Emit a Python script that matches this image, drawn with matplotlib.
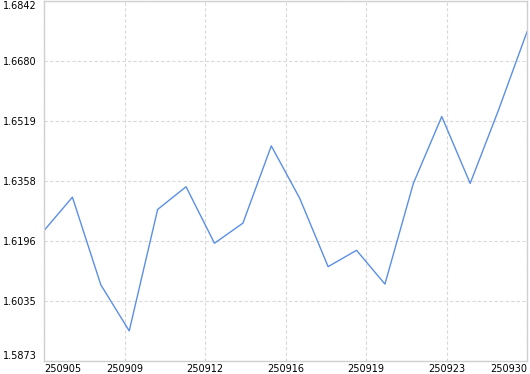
import numpy as np
import matplotlib
matplotlib.use("Agg")
import matplotlib.pyplot as plt

# daily values, 18 trading days
values = [1.6224, 1.6314, 1.6078, 1.5954, 1.6281, 1.6342, 1.6190, 1.6244,
          1.6452, 1.6311, 1.6127, 1.6171, 1.6080, 1.6351, 1.6531, 1.6351,
          1.6549, 1.6759]
tick_labels = ["250905", "250909", "250912", "250916", "250919", "250923", "250930"]
y_ticks = ["1.5873", "1.6035", "1.6196", "1.6358", "1.6519", "1.6680", "1.6842"]
y_min, y_max = 1.5873, 1.6842

fig = plt.figure(figsize=(5.3, 3.74), dpi=100)
ax = fig.add_axes([44 / 530, 1 - 361 / 374, 483 / 530, 360 / 374])

x = np.arange(len(values))
ax.plot(x, values, color="#5b8fe6", lw=1.0)

ax.set_xlim(0, len(values) - 1)
ax.set_ylim(y_min, y_max)

xt = np.linspace(0, len(values) - 1, len(tick_labels))
ax.set_xticks(xt)
ax.set_xticklabels(tick_labels)
yt = np.linspace(y_min, y_max, len(y_ticks))
ax.set_yticks(yt)
ax.set_yticklabels(y_ticks)

ax.tick_params(axis="both", length=0, labelsize=7, colors="black")
ax.tick_params(axis="x", pad=2)
ax.tick_params(axis="y", pad=5)

labs = ax.get_xticklabels()
labs[0].set_ha("left")
labs[-1].set_ha("right")
ylabs = ax.get_yticklabels()
ylabs[0].set_va("bottom")
ylabs[-1].set_va("top")

ax.grid(True, color="#d9d9d9", ls=(0, (3, 2)), lw=0.8)
for s in ax.spines.values():
    s.set_color("#d0d0d0")
    s.set_linewidth(1)

fig.savefig("out.png", dpi=100)
